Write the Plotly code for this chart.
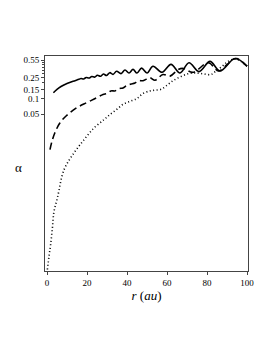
import plotly.graph_objects as go

# Solid curve
r_solid = [3.2, 5, 7, 10, 13, 16, 17, 18.3, 19.6, 21, 22.4, 23.8, 25.2, 26.7, 28.2, 29.8,
           31.4, 33, 34.8, 37, 39, 41, 43, 45, 47.3, 50, 53, 57.5, 62, 66.5, 71, 76,
           81.5, 86.5, 94, 100]
a_solid = [0.129, 0.15, 0.17, 0.195, 0.215, 0.235, 0.243, 0.238, 0.254, 0.248, 0.266, 0.258,
           0.28, 0.268, 0.296, 0.278, 0.315, 0.292, 0.335, 0.302, 0.355, 0.31, 0.365, 0.31,
           0.385, 0.31, 0.42, 0.32, 0.455, 0.31, 0.49, 0.33, 0.52, 0.34, 0.59, 0.42]

# Dashed curve
r_dash = [1.5, 2.5, 4, 6.5, 9.8, 14.8, 19.8, 24.8, 28, 30, 32, 34, 36, 38, 40, 42, 44, 46,
          48, 51.5, 54, 58, 61.5, 65.5, 68, 73, 80.7, 85.7, 90, 93, 95, 100]
a_dash = [0.0103, 0.015, 0.022, 0.034, 0.047, 0.066, 0.083, 0.103, 0.12, 0.125, 0.14, 0.14,
          0.155, 0.16, 0.18, 0.19, 0.20, 0.22, 0.22, 0.25, 0.225, 0.29, 0.27, 0.36, 0.38,
          0.32, 0.49, 0.34, 0.45, 0.57, 0.59, 0.42]

# Dotted curve
r_dot = [0.2, 1, 1.8, 2.7, 3.5, 5.2, 8.5, 13.5, 18.5, 23.5, 28.5, 31.5, 35, 38, 41.5, 45,
         48, 51.5, 54, 57, 60, 63, 66.5, 70.5, 74, 78, 82, 84.5, 88, 90.5, 94, 97, 100]
a_dot = [5e-5, 9e-5, 1.5e-4, 3.2e-4, 6.6e-4, 0.0012, 0.0042, 0.0089, 0.016, 0.027, 0.039,
         0.049, 0.062, 0.077, 0.088, 0.1, 0.125, 0.14, 0.145, 0.15, 0.18, 0.22, 0.26, 0.3,
         0.31, 0.30, 0.29, 0.34, 0.43, 0.52, 0.58, 0.52, 0.42]

x_ticks = [0, 20, 40, 60, 80, 100]
y_ticks = [0.05, 0.1, 0.15, 0.25, 0.55]
y_tick_labels = ["0.05", "0.1", "0.15", "0.25", "0.55"]
y_minor = [0.2, 0.3, 0.35, 0.4, 0.45, 0.5]

SERIF = "Liberation Serif"

fig = go.Figure()
fig.add_trace(go.Scatter(x=r_dot, y=a_dot, mode="lines",
                         line=dict(color="black", width=1.6, dash="1px,2.5px", shape="spline")))
fig.add_trace(go.Scatter(x=r_dash, y=a_dash, mode="lines",
                         line=dict(color="black", width=1.6, dash="7px,4px", shape="spline")))
fig.add_trace(go.Scatter(x=r_solid, y=a_solid, mode="lines",
                         line=dict(color="black", width=1.6, shape="spline")))

# page has an 8px body margin; figure sized so that everything fits 273x353
OFF = 8
W, H = 273 - 2 * OFF, 353 - 2 * OFF
L, T = 45 - OFF, 56 - OFF
R = W - (248 - OFF)
B = H - (271 - OFF)
pw, ph = W - L - R, H - T - B

fig.update_layout(
    template="none",
    width=W, height=H,
    margin=dict(l=L, r=R, t=T, b=B),
    paper_bgcolor="white", plot_bgcolor="white",
    showlegend=False,
    font=dict(family=SERIF, size=9, color="black"),
    xaxis=dict(range=[-1, 100.5], tickvals=x_ticks, ticks="outside", ticklen=3,
               tickcolor="#444", showline=True, linecolor="#444", linewidth=1,
               mirror=True, showgrid=False, zeroline=False,
               tickfont=dict(family=SERIF, size=9, color="black"),
               title=dict(text="<i>r</i> (<i>au</i>)", standoff=4,
                          font=dict(family=SERIF, size=13, color="black"))),
    yaxis=dict(type="log", range=[-4.33, -0.18], tickvals=y_ticks, ticktext=y_tick_labels,
               ticks="outside", ticklen=3, tickcolor="#444", showline=True,
               linecolor="#444", linewidth=1, mirror=True, showgrid=False,
               zeroline=False, tickfont=dict(family=SERIF, size=9, color="black"),
               minor=dict(tickvals=y_minor, ticks="outside", ticklen=2, tickcolor="#444")),
    annotations=[
        dict(text="α", x=(18 - OFF - L) / pw, y=1 - (167 - OFF - T) / ph,
             xref="paper", yref="paper",
             showarrow=False, xanchor="center", yanchor="middle",
             font=dict(family=SERIF, size=13, color="black")),
    ],
)

fig.write_html("out.html")
